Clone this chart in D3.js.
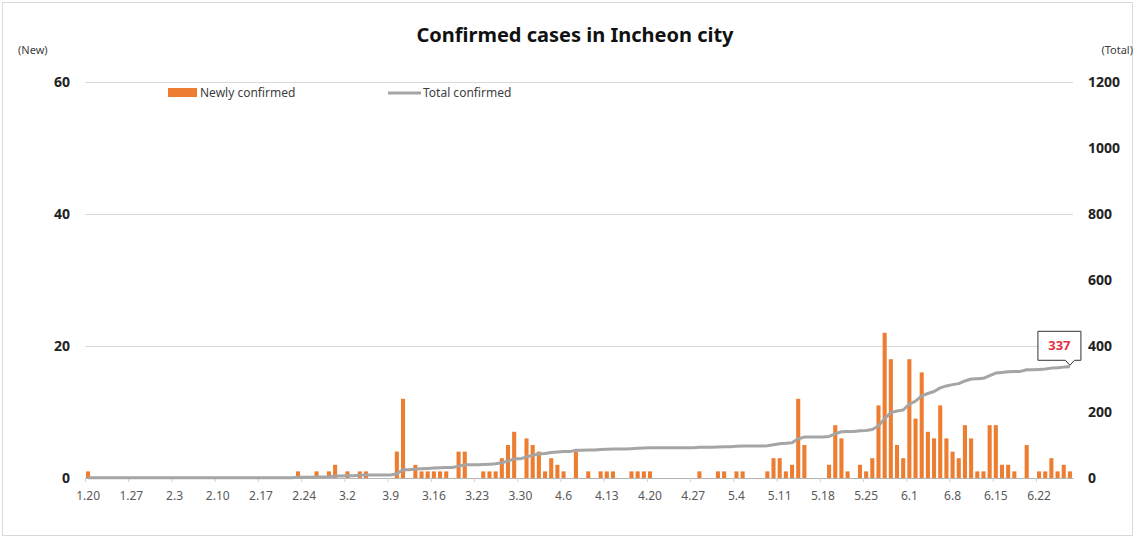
<!DOCTYPE html>
<html>
<head>
<meta charset="utf-8">
<script src="https://cdn.jsdelivr.net/npm/d3@7"></script>
<style>
  body { margin: 0; background: #fff; }
  text { font-family: "Noto Sans", "Open Sans", sans-serif; }
</style>
</head>
<body>
<svg id="chart" width="1136" height="539"></svg>
<script>
// daily new cases from 1.20 (one value per day)
var newCases = [
  1,0,0,0,0,0,0,0,0,0,
  0,0,0,0,0,0,0,0,0,0,
  0,0,0,0,0,0,0,0,0,0,
  0,0,0,0,1,0,0,1,0,1,
  2,0,1,0,1,1,0,0,0,0,
  4,12,0,2,1,1,1,1,1,0,
  4,4,0,0,1,1,1,3,5,7,
  0,6,5,4,1,3,2,1,0,4,
  0,1,0,1,1,1,0,0,1,1,
  1,1,0,0,0,0,0,0,0,1,
  0,0,1,1,0,1,1,0,0,0,
  1,3,3,1,2,12,5,0,0,0,
  2,8,6,1,0,2,1,3,11,22,
  18,5,3,18,9,16,7,6,11,6,
  4,3,8,6,1,1,8,8,2,2,
  1,0,5,0,1,1,3,1,2,1
];

// total confirmed per day
var totalCases = [
  1,1,1,1,1,1,1,1,1,1,
  1,1,1,1,1,1,1,1,1,1,
  1,1,1,1,1,1,1,1,1,1,
  1,1,1,1,2,2,2,3,3,4,
  6,6,7,7,8,9,9,9,9,9,
  13,25,25,27,28,29,30,31,32,32,
  36,40,40,40,41,42,43,46,51,58,
  58,64,69,73,74,77,79,80,80,84,
  84,85,85,86,87,88,88,88,89,90,
  91,92,92,92,92,92,92,92,92,93,
  93,93,94,95,95,96,97,97,97,97,
  98,101,104,105,107,119,124,124,124,124,
  126,134,140,141,141,143,144,147,158,180,
  198,203,206,224,233,249,256,262,273,279,
  283,286,294,300,301,302,310,318,320,322,
  323,323,328,328,329,330,333,334,336,337
];

// weekly labels, every 7th day starting at 1.20
var dateLabels = ["1.20","1.27","2.3","2.10","2.17","2.24","3.2","3.9","3.16","3.23","3.30",
  "4.6","4.13","4.20","4.27","5.4","5.11","5.18","5.25","6.1","6.8","6.15","6.22"];

var leftTicks = [0, 20, 40, 60];
var rightTicks = [0, 200, 400, 600, 800, 1000, 1200];

var svg = d3.select("#chart"),
    plot = {left: 85, right: 1073, top: 82, bottom: 478};

// outer frame
svg.append("rect")
    .attr("x", 2.5).attr("y", 2.5)
    .attr("width", 1130).attr("height", 533)
    .attr("fill", "none")
    .attr("stroke", "#d9d9d9");

var x = d3.scaleBand()
    .domain(d3.range(newCases.length))
    .range([plot.left, plot.right])
    .paddingInner(0.34)
    .paddingOuter(0.17);

var xEdge = d3.scaleLinear()
    .domain([0, newCases.length])
    .range([plot.left, plot.right]);

var yL = d3.scaleLinear().domain([0, 60]).range([plot.bottom, plot.top]);
var yR = d3.scaleLinear().domain([0, 1200]).range([plot.bottom, plot.top]);

// gridlines
var grid = svg.append("g")
    .attr("transform", "translate(" + plot.left + ",0)")
    .call(d3.axisLeft(yL).tickValues(leftTicks.slice(1)).tickSize(-(plot.right - plot.left)).tickFormat(""));
grid.select(".domain").remove();
grid.selectAll("line").attr("stroke", "#d9d9d9");

// left axis labels
var gl = svg.append("g")
    .attr("transform", "translate(70,0)")
    .call(d3.axisLeft(yL).tickValues(leftTicks).tickSize(0).tickPadding(0).tickFormat(d3.format("d")));
gl.select(".domain").remove();
gl.selectAll("text")
    .attr("font-size", 14).attr("font-weight", "bold").attr("fill", "#222")
    .style("font-family", "'Noto Sans', sans-serif");

// right axis labels
var gr = svg.append("g")
    .attr("transform", "translate(1088,0)")
    .call(d3.axisRight(yR).tickValues(rightTicks).tickSize(0).tickPadding(0).tickFormat(d3.format("d")));
gr.select(".domain").remove();
gr.selectAll("text")
    .attr("font-size", 14).attr("font-weight", "bold").attr("fill", "#222")
    .style("font-family", "'Noto Sans', sans-serif");

// bars
svg.append("g")
  .selectAll("rect")
  .data(newCases)
  .enter().append("rect")
    .attr("x", function(d, i) { return x(i); })
    .attr("y", function(d) { return yL(d); })
    .attr("width", x.bandwidth())
    .attr("height", function(d) { return yL(0) - yL(d); })
    .attr("fill", "#ed7d31");

// x axis line and weekly tick marks
var gx = svg.append("g")
    .attr("transform", "translate(0," + plot.bottom + ")")
    .call(d3.axisBottom(xEdge)
      .tickValues(d3.range(0, newCases.length, 7))
      .tickSize(4)
      .tickSizeOuter(0)
      .tickFormat(""));
gx.select(".domain").attr("stroke", "#b4b4b4");
gx.selectAll(".tick line").attr("stroke", "#d0d0d0");

// x labels centred on the labelled day
var gxl = svg.append("g")
    .attr("transform", "translate(0," + plot.bottom + ")")
    .call(d3.axisBottom(x)
      .tickValues(d3.range(0, newCases.length, 7))
      .tickSize(0)
      .tickPadding(13)
      .tickFormat(function(d, i) { return dateLabels[i]; }));
gxl.select(".domain").remove();
gxl.selectAll("text")
    .attr("font-size", 12).attr("fill", "#595959")
    .style("font-family", "'Noto Sans', sans-serif");

// total line
var line = d3.line()
    .x(function(d, i) { return x(i) + x.bandwidth() / 2; })
    .y(function(d) { return yR(d); });

svg.append("path")
    .datum(totalCases)
    .attr("fill", "none")
    .attr("stroke", "#a5a5a5")
    .attr("stroke-width", 3)
    .attr("stroke-linejoin", "round")
    .attr("d", line);

// callout for the latest total
var last = totalCases.length - 1,
    tx = x(last) + x.bandwidth() / 2,
    ty = yR(totalCases[last]) - 1.5;
var bx0 = tx - 32, bx1 = tx + 11, by0 = ty - 34, by1 = ty - 5;
svg.append("path")
    .attr("d", "M" + bx0 + "," + by0 + "H" + bx1 + "V" + by1 + "H" + (tx + 4.5) +
               "L" + tx + "," + ty + "L" + (tx - 4.5) + "," + by1 + "H" + bx0 + "Z")
    .attr("fill", "#fff")
    .attr("stroke", "#333")
    .attr("stroke-width", 1);
svg.append("text")
    .attr("x", (bx0 + bx1) / 2)
    .attr("y", (by0 + by1) / 2)
    .attr("dy", "0.35em")
    .attr("text-anchor", "middle")
    .attr("font-size", 13)
    .attr("font-weight", "bold")
    .attr("fill", "#e5323e")
    .text(totalCases[last]);

// title and unit labels
svg.append("text")
    .attr("x", 575).attr("y", 42)
    .attr("text-anchor", "middle")
    .attr("font-size", 20).attr("font-weight", "bold").attr("fill", "#111")
    .text("Confirmed cases in Incheon city");

svg.append("text")
    .attr("x", 18).attr("y", 54)
    .attr("font-size", 11).attr("fill", "#404040")
    .text("(New)");

svg.append("text")
    .attr("x", 1133).attr("y", 54)
    .attr("text-anchor", "end")
    .attr("font-size", 11).attr("fill", "#404040")
    .text("(Total)");

// legend
var legend = svg.append("g");
legend.append("rect")
    .attr("x", 168).attr("y", 88)
    .attr("width", 29).attr("height", 9)
    .attr("fill", "#ed7d31");
legend.append("text")
    .attr("x", 200).attr("y", 93)
    .attr("dy", "0.35em")
    .attr("font-size", 12).attr("fill", "#404040")
    .text("Newly confirmed");
legend.append("line")
    .attr("x1", 388).attr("x2", 421)
    .attr("y1", 93).attr("y2", 93)
    .attr("stroke", "#a5a5a5")
    .attr("stroke-width", 3);
legend.append("text")
    .attr("x", 423).attr("y", 93)
    .attr("dy", "0.35em")
    .attr("font-size", 12).attr("fill", "#404040")
    .text("Total confirmed");
</script>
</body>
</html>
